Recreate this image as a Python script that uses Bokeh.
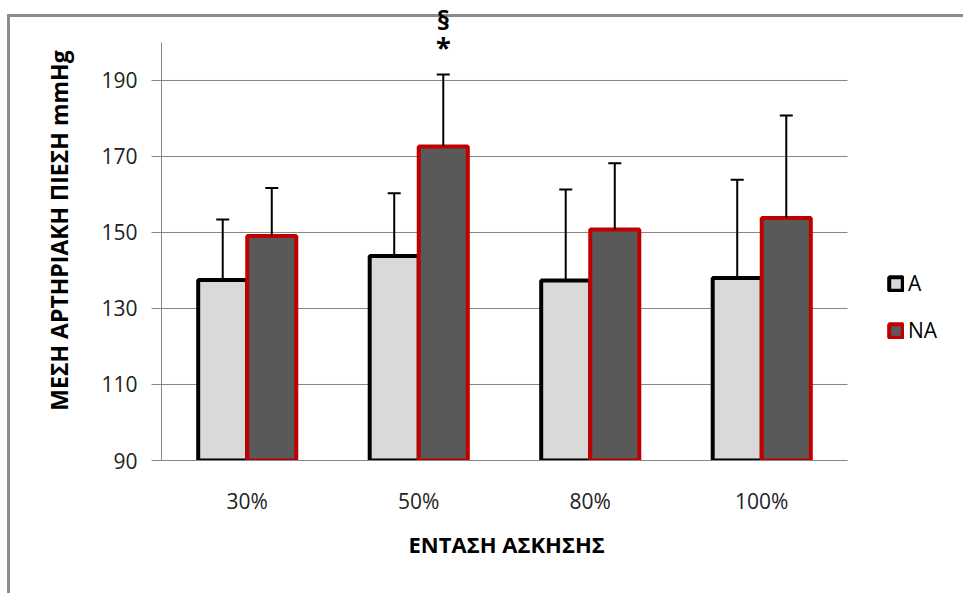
from bokeh.plotting import figure
from bokeh.models import (ColumnDataSource, Range1d, FixedTicker, Whisker,
                          TeeHead, Legend, LegendItem, InlineStyleSheet, Title)
from bokeh.core.properties import value
from bokeh.embed import file_html
from bokeh.resources import INLINE

# Exercise intensity groups
categories = ["30%", "50%", "80%", "100%"]

# Mean arterial pressure (mmHg) and SD, group A
a_mean = [137.5, 143.8, 137.4, 138.0]
a_sd = [15.9, 16.5, 23.9, 25.9]

# Mean arterial pressure (mmHg) and SD, group NA
na_mean = [149.1, 172.6, 150.8, 153.8]
na_sd = [12.6, 19.0, 17.4, 27.0]

y_ticks = [90, 110, 130, 150, 170, 190]
sig_marks = ["§", "*"]
sig_group = "50%"

FONT = "Open Sans"
GRID = "#868686"

pos = list(range(len(categories)))
off = 0.143
bw = 0.286

a_up = [m + s for m, s in zip(a_mean, a_sd)]
na_up = [m + s for m, s in zip(na_mean, na_sd)]

src = ColumnDataSource(dict(
    xa=[x - off for x in pos], xn=[x + off for x in pos],
    a_mean=a_mean, a_up=a_up, na_mean=na_mean, na_up=na_up))

# plot frame runs to the right edge so the legend can sit beside the bars
x_end = len(categories) - 0.5 + 116 / 171.5
p = figure(x_range=Range1d(-0.5, x_end), y_range=Range1d(90, 211.05),
           width=963, height=593, output_backend="svg", toolbar_location=None,
           min_border_left=161, min_border_right=0,
           min_border_top=0, min_border_bottom=133)
p.outline_line_color = None
p.background_fill_alpha = 0
p.border_fill_alpha = 0

# grey chart-area border along the top and left edges
p.stylesheets = [InlineStyleSheet(css="""
:host { position: relative; z-index: 0; }
:host::after { content: ''; position: absolute; left: 7px; top: 14px;
  right: 0; bottom: 0; border-top: 3px solid #8c8c8c;
  border-left: 3px solid #8c8c8c; z-index: -1; pointer-events: none; }
""")]

# horizontal gridlines across the category area
p.segment(x0=-0.5, x1=len(categories) - 0.5, y0=y_ticks, y1=y_ticks,
          line_color=GRID, line_width=1)

ra = p.vbar(x="xa", top="a_mean", bottom=90, width=bw, source=src,
            fill_color="#D9D9D9", line_color="black", line_width=4)
rn = p.vbar(x="xn", top="na_mean", bottom=90, width=bw, source=src,
            fill_color="#595959", line_color="#C00000", line_width=4)

for base, lo, up in (("xa", "a_mean", "a_up"), ("xn", "na_mean", "na_up")):
    p.add_layout(Whisker(source=src, base=base, lower=lo, upper=up,
                         dimension="height", line_color="black", line_width=2,
                         lower_head=None,
                         upper_head=TeeHead(size=13, line_color="black",
                                            line_width=2),
                         level="overlay"))

# significance marks above the 50% NA bar
i = categories.index(sig_group)
top = na_up[i]
msrc = ColumnDataSource(dict(x=[pos[i] + off] * 2, txt=sig_marks,
                             y=[top + 14.4, top + 7.3]))
p.text(x="x", y="y", text="txt", source=msrc,
       text_font=value(FONT), text_font_style="bold", text_font_size="27px",
       text_align="center", text_baseline="middle", text_color="black")

# axes
p.yaxis.bounds = (90, 200)
p.yaxis.ticker = FixedTicker(ticks=y_ticks)
p.yaxis.axis_line_color = GRID
p.yaxis.major_tick_line_color = GRID
p.yaxis.major_tick_out = 10
p.yaxis.major_tick_in = 0
p.yaxis.minor_tick_line_color = None
p.yaxis.major_label_text_font = FONT
p.yaxis.major_label_text_font_size = "21px"
p.yaxis.major_label_text_color = "#222222"
p.yaxis.major_label_standoff = 14
p.yaxis.axis_label = "ΜΕΣΗ ΑΡΤΗΡΙΑΚΗ ΠΙΕΣΗ mmHg"
p.yaxis.axis_label_text_font = FONT
p.yaxis.axis_label_text_font_style = "bold"
p.yaxis.axis_label_text_font_size = "23px"
p.yaxis.axis_label_text_color = "black"
p.yaxis.axis_label_standoff = 23

p.xaxis.bounds = (-0.5, len(categories) - 0.5)
p.xaxis.ticker = FixedTicker(ticks=pos)
p.xaxis.major_label_overrides = {x: c for x, c in zip(pos, categories)}
p.xaxis.axis_line_color = GRID
p.xaxis.major_tick_line_color = None
p.xaxis.minor_tick_line_color = None
p.xaxis.major_label_text_font = FONT
p.xaxis.major_label_text_font_size = "21px"
p.xaxis.major_label_text_color = "#222222"
p.xaxis.major_label_standoff = 20

# x-axis title, centred under the category area rather than the whole frame
p.add_layout(Title(text="ΕΝΤΑΣΗ ΑΣΚΗΣΗΣ", align="left", offset=247,
                   text_font=FONT, text_font_style="bold",
                   text_font_size="22px", text_color="black", standoff=19,
                   vertical_align="bottom", text_line_height=1.6),
             "below")

p.xgrid.grid_line_color = None
p.ygrid.grid_line_color = None

legend = Legend(items=[LegendItem(label="A", renderers=[ra]),
                       LegendItem(label="NA", renderers=[rn])],
                location=(726, 116), padding=0, spacing=19,
                glyph_width=17, glyph_height=17, label_standoff=4,
                label_text_font=FONT, label_text_font_size="21px",
                label_text_color="black", border_line_color=None,
                background_fill_alpha=0)
p.add_layout(legend)

open("out.html", "w").write(file_html(p, INLINE))
